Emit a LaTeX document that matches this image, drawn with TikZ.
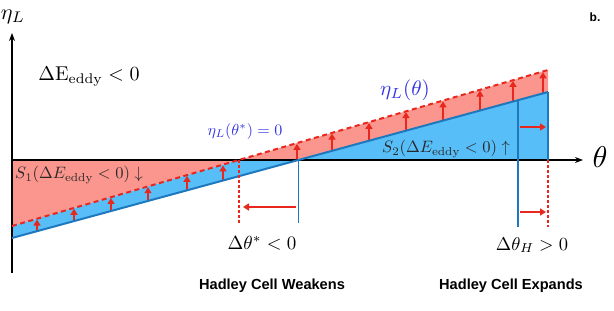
\documentclass[tikz,border=0pt]{standalone}
\usepackage{fontspec}
\setsansfont{Liberation Sans}
\usetikzlibrary{arrows.meta,calc}
\definecolor{redfill}{RGB}{250,150,142}
\definecolor{bluefill}{RGB}{88,190,248}
\definecolor{blueline}{RGB}{30,120,190}
\definecolor{redline}{RGB}{232,40,30}
\definecolor{bluetext}{RGB}{50,50,230}
\definecolor{graytext}{RGB}{40,40,40}
\tikzset{
  axisline/.style={draw=black,line width=1.3pt,-{Stealth[length=8pt,width=6pt]}},
  bline/.style={draw=blueline,line width=2pt},
  rdash/.style={draw=redline,line width=2pt,dash pattern=on 5pt off 3.5pt},
  rdot/.style={draw=redline,line width=1.5pt,dash pattern=on 2.5pt off 2.5pt},
  rarrow/.style={draw=redline,line width=1.8pt,-{Triangle[length=6pt,width=7pt]}},
  smallarr/.style={draw=redline,line width=1.7pt,-{Triangle[length=6pt,width=7pt]}},
  bold label/.style={font=\sffamily\bfseries\fontsize{14.6}{17}\selectfont},
}
\begin{document}
\begin{tikzpicture}[x=1pt,y=-1pt]
\useasboundingbox (0,0) rectangle (614,311);
% key points
\coordinate (B1) at (12,238);
\coordinate (B2) at (548,92);
\coordinate (D1) at (12,226);
\coordinate (D2) at (548,70);
\coordinate (A1) at (12,160);
\coordinate (A2) at (583,160);
\coordinate (AR) at (548,160);
\coordinate (Bx) at (intersection of B1--B2 and A1--AR);
\coordinate (Dx) at (intersection of D1--D2 and A1--AR);
% fills
\fill[redfill] (A1) -- (D1) -- (D2) -- (B2) -- (Bx) -- cycle;
\fill[bluefill] (D1) -- (Dx) -- (AR) -- (B2) -- (B1) -- cycle;
% small arrows
\foreach \x in {37,74,111,148,187,223,297,332,369,406,443,480,513,543}{
  \draw[smallarr] (\x,{238-0.27239*(\x-12)-0.5}) -- (\x,{226-0.29104*(\x-12)+0.8});
}
% axes
\coordinate (Ybot) at (12,273);
\coordinate (Ytop) at (12,33);
\draw[axisline] (Ybot) -- (Ytop);
\draw[axisline] (A1) -- (A2);
% lines
\draw[rdash] (D1) -- (D2);
\draw[bline] (B1) -- (B2);
\coordinate (Bxb) at ($(Bx)+(0,63)$);
\coordinate (Dxb) at ($(Dx)+(0,63)$);
\draw[bline,line width=1.6pt] (Bx) -- (Bxb);
\draw[rdot] (Dx) -- (Dxb);
\coordinate (H1t) at (518,{238-0.27239*(518-12)});
\coordinate (H1b) at (518,227);
\draw[bline,line width=1.6pt] (H1t) -- (H1b);
\draw[bline,line width=1.6pt] (B2) -- (AR);
\coordinate (H2b) at (548,227);
\draw[rdot] (AR) -- (H2b);
% horizontal red arrows
\coordinate (la1) at (296,207); \coordinate (la2) at (243,207);
\draw[rarrow] (la1) -- (la2);
\coordinate (ra1) at (520,127); \coordinate (ra2) at (546,127);
\draw[rarrow] (ra1) -- (ra2);
\coordinate (rb1) at (520,212); \coordinate (rb2) at (546,212);
\draw[rarrow] (rb1) -- (rb2);
% labels
\node[scale=2.2] (etaL) at (13,17) {$\eta_L$};
\node[scale=3] (theta) at (600,157) {$\theta$};
\node[scale=2.0] (dE) at (89,77) {$\Delta\mathrm{E}_{\mathrm{eddy}} < 0$};
\node[scale=1.65,text=graytext] (S1) at (79,175) {$S_1(\Delta E_{\mathrm{eddy}} < 0)\downarrow$};
\node[scale=1.65,text=graytext] (S2) at (446,149) {$S_2(\Delta E_{\mathrm{eddy}} < 0)\uparrow$};
\node[scale=2.1,text=bluetext] (etath) at (405,90) {$\eta_L(\theta)$};
\node[scale=1.6,text=bluetext] (etastar) at (245,131) {$\eta_L(\theta^{*}) = 0$};
\node[scale=1.9] (dthstar) at (262,243) {$\Delta\theta^{*} < 0$};
\node[scale=1.85] (dthH) at (532,245) {$\Delta\theta_H > 0$};
\node[bold label] (weak) at (272,286) {Hadley Cell Weakens};
\node[bold label] (exp) at (511,286) {Hadley Cell Expands};
\node[font=\sffamily\bfseries\fontsize{12}{14}\selectfont] (b) at (595,17) {b.};
\end{tikzpicture}
\end{document}
